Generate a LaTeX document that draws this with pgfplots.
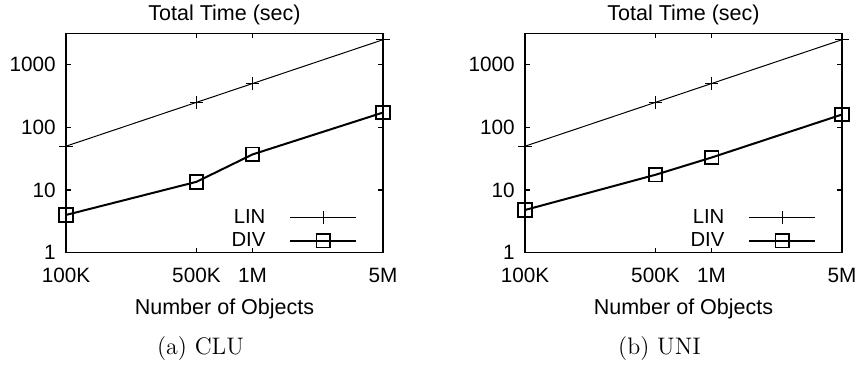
\documentclass[border=0pt]{standalone}
\usepackage{fontspec}
\setsansfont{Liberation Sans}
\usepackage{pgfplots}
\pgfplotsset{compat=1.18}
\pgfplotsset{
 lin/.style={black, line width=0.5bp, mark=+, mark size=3.3bp, mark options={line width=0.5bp}},
 div/.style={black, line width=1bp, mark=square, mark size=3.4bp, mark options={line width=0.9bp}},
}
\begin{document}
\begin{tikzpicture}
\begin{axis}[at={(0,0)}, anchor=south west,
  xmode=log, ymode=log,
  scale only axis, width=158.5bp, height=109.7bp,
  xmin=1e5, xmax=5e6, ymin=1, ymax=3162.28,
  xtick={1e5,5e5,1e6,5e6}, xticklabels={100K,500K,1M,5M},
  ytick={1,10,100,1000}, yticklabels={1,10,100,1000},
  minor tick length=0pt,
  tick align=inside, major tick length=2.5bp,
  axis line style={line width=0.6bp},
  tick style={line width=0.6bp, black},
  tick label style={font=\sffamily\fontsize{10.4}{12}\selectfont},
  xticklabel style={anchor=base, inner sep=0pt, yshift=-15bp},
  yticklabel style={anchor=east, inner sep=0pt, xshift=-5bp},
  title style={at={(0.5,1)}, anchor=base, inner sep=0pt, yshift=0.5bp, font=\sffamily\fontsize{10.8}{13}\selectfont},
  title={Total Time (sec)},
  xlabel={Number of Objects},
  xlabel style={at={(axis description cs:0.5,0)}, anchor=base, inner sep=0pt, yshift=-31bp, font=\sffamily\fontsize{10.8}{13}\selectfont},
  clip=false,
  legend plot pos=right, legend cell align=right,
  legend style={draw=none, fill=none, at={(1,0)}, anchor=south east, xshift=-13bp, yshift=1.75bp,
    inner sep=0pt, outer sep=0pt, row sep=3bp, column sep=12bp,
    nodes={inner sep=0pt}, font=\sffamily\fontsize{10.2}{12}\selectfont},
  legend image code/.code={\draw[#1, mark=none] (0bp,0bp) -- (32.8bp,0bp); \draw[#1, only marks] plot coordinates {(16.4bp,0bp)};},
]
\addplot[lin] coordinates {(1e5,50) (5e5,250) (1e6,500) (5e6,2500)};
\addlegendentry{LIN}
\addplot[div] coordinates {(1e5,4) (5e5,13.5) (1e6,37) (5e6,172)};
\addlegendentry{DIV}
\node[anchor=base, xshift=-12bp, yshift=-51bp, font=\rmfamily\fontsize{12}{14}\selectfont] at (rel axis cs:0.5,0) {(a) CLU};
\end{axis}
\begin{axis}[at={(229.5bp,0)}, anchor=south west,
  xmode=log, ymode=log,
  scale only axis, width=158.5bp, height=109.7bp,
  xmin=1e5, xmax=5e6, ymin=1, ymax=3162.28,
  xtick={1e5,5e5,1e6,5e6}, xticklabels={100K,500K,1M,5M},
  ytick={1,10,100,1000}, yticklabels={1,10,100,1000},
  minor tick length=0pt,
  tick align=inside, major tick length=2.5bp,
  axis line style={line width=0.6bp},
  tick style={line width=0.6bp, black},
  tick label style={font=\sffamily\fontsize{10.4}{12}\selectfont},
  xticklabel style={anchor=base, inner sep=0pt, yshift=-15bp},
  yticklabel style={anchor=east, inner sep=0pt, xshift=-5bp},
  title style={at={(0.5,1)}, anchor=base, inner sep=0pt, yshift=0.5bp, font=\sffamily\fontsize{10.8}{13}\selectfont},
  title={Total Time (sec)},
  xlabel={Number of Objects},
  xlabel style={at={(axis description cs:0.5,0)}, anchor=base, inner sep=0pt, yshift=-31bp, font=\sffamily\fontsize{10.8}{13}\selectfont},
  clip=false,
  legend plot pos=right, legend cell align=right,
  legend style={draw=none, fill=none, at={(1,0)}, anchor=south east, xshift=-13bp, yshift=1.75bp,
    inner sep=0pt, outer sep=0pt, row sep=3bp, column sep=12bp,
    nodes={inner sep=0pt}, font=\sffamily\fontsize{10.2}{12}\selectfont},
  legend image code/.code={\draw[#1, mark=none] (0bp,0bp) -- (32.8bp,0bp); \draw[#1, only marks] plot coordinates {(16.4bp,0bp)};},
]
\addplot[lin] coordinates {(1e5,50) (5e5,250) (1e6,500) (5e6,2500)};
\addlegendentry{LIN}
\addplot[div] coordinates {(1e5,4.8) (5e5,17.5) (1e6,33) (5e6,160)};
\addlegendentry{DIV}
\node[anchor=base, xshift=-12bp, yshift=-51bp, font=\rmfamily\fontsize{12}{14}\selectfont] at (rel axis cs:0.5,0) {(b) UNI};
\end{axis}
\pgfresetboundingbox
\path (-33bp,-56.15bp) rectangle (396.5bp,126.35bp);
\end{tikzpicture}
\end{document}
